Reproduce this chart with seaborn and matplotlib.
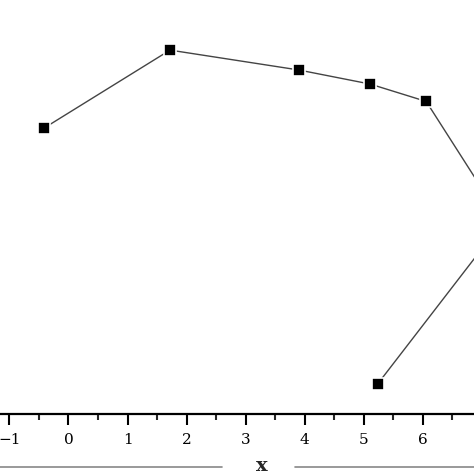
import numpy as np
import pandas as pd
import matplotlib.pyplot as plt
import seaborn as sns
from matplotlib.lines import Line2D
from matplotlib.ticker import MultipleLocator

# Data (the path turns back after the last point on the right)
x_vals = [-0.42, 1.72, 3.90, 5.11, 6.06, 7.36, 5.24]
y_vals = [0.690, 0.879, 0.831, 0.797, 0.755, 0.465, 0.073]
x_ticks = [-1, 0, 1, 2, 3, 4, 5, 6]

df = pd.DataFrame({'x': x_vals, 'y': y_vals})

sns.set_theme(style='white')
plt.rcParams['font.family'] = ['DejaVu Serif']

fig = plt.figure(figsize=(4.74, 4.74), dpi=100)
ax = fig.add_axes([0, 60 / 474, 1, 414 / 474])

sns.lineplot(data=df, x='x', y='y', sort=False, estimator=None, ax=ax,
             color='#444444', linewidth=1.0, marker='s', markersize=8.5,
             markerfacecolor='black', markeredgecolor='white', markeredgewidth=1.2)

ax.set_xlim(-1.16, 6.87)
ax.set_ylim(0, 1)
ax.set_xticks(x_ticks)
ax.set_xticklabels(['\u22121' if t == -1 else str(t) for t in x_ticks])
ax.xaxis.set_minor_locator(MultipleLocator(0.5))
ax.tick_params(axis='x', which='major', direction='out', length=8, width=1.5,
               labelsize=11, pad=6, colors='black', bottom=True)
ax.tick_params(axis='x', which='minor', direction='out', length=4, width=1.5,
               bottom=True)
ax.set_yticks([])
ax.set_xlabel('')
ax.set_ylabel('')
for side in ['top', 'left', 'right']:
    ax.spines[side].set_visible(False)
ax.spines['bottom'].set_linewidth(1.6)
ax.spines['bottom'].set_color('black')

# x label with rules on either side
fig.text(262 / 474, 1 - 466 / 474, 'x', ha='center', va='center',
         fontsize=14, fontweight='bold')
y_rule = 1 - 467 / 474
fig.add_artist(Line2D([0, 222 / 474], [y_rule, y_rule], color='#888888', linewidth=1.2))
fig.add_artist(Line2D([295 / 474, 1], [y_rule, y_rule], color='#888888', linewidth=1.2))

plt.savefig('out.png', dpi=100)
